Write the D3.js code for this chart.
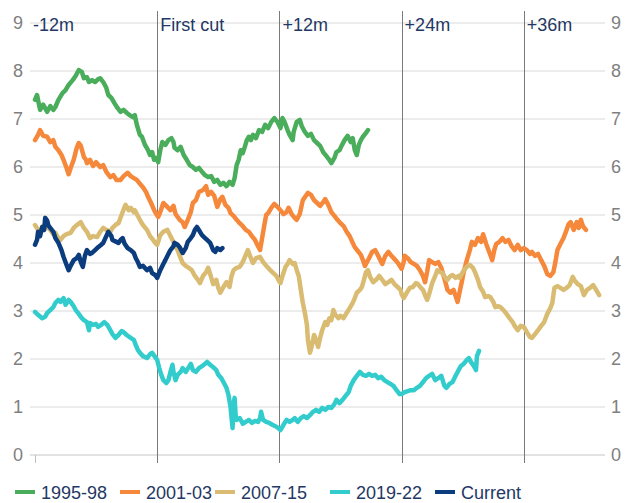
<!DOCTYPE html>
<html><head><meta charset="utf-8">
<script src="https://cdn.jsdelivr.net/npm/d3@7"></script>
<style>body{margin:0;background:#fff;}svg{display:block;font-family:"Liberation Sans",Arial,sans-serif;}</style>
</head><body><svg id="c" width="641" height="503"></svg>
<script>
// months relative to first cut, rate (%)
const s199598 = [[-12.0,7.4],[-11.8,7.5],[-11.5,7.19],[-11.2,7.3],[-10.8,7.15],[-10.5,7.27],[-10.2,7.19],[-10.0,7.25],[-9.7,7.4],[-9.3,7.54],[-9.0,7.6],[-8.7,7.71],[-8.3,7.81],[-8.0,7.9],[-7.7,8.02],[-7.4,7.98],[-7.2,7.85],[-6.9,7.87],[-6.7,7.77],[-6.4,7.81],[-6.1,7.77],[-5.8,7.83],[-5.6,7.85],[-5.3,7.77],[-5.0,7.65],[-4.8,7.5],[-4.5,7.44],[-4.2,7.33],[-3.9,7.23],[-3.6,7.15],[-3.3,7.19],[-3.0,7.13],[-2.7,7.08],[-2.4,7.04],[-2.2,7.08],[-2.0,6.88],[-1.7,6.67],[-1.5,6.63],[-1.2,6.46],[-0.9,6.35],[-0.7,6.25],[-0.5,6.31],[-0.3,6.15],[-0.1,6.19],[0.1,6.1],[0.3,6.35],[0.5,6.52],[0.8,6.46],[1.1,6.56],[1.4,6.6],[1.6,6.52],[1.7,6.4],[2.0,6.35],[2.3,6.42],[2.6,6.25],[2.9,6.15],[3.2,6.04],[3.5,6.0],[3.8,5.94],[4.1,5.98],[4.4,5.9],[4.7,5.83],[5.0,5.79],[5.3,5.81],[5.6,5.69],[5.9,5.73],[6.2,5.63],[6.5,5.67],[6.8,5.6],[7.1,5.69],[7.4,5.63],[7.6,5.77],[7.8,6.04],[8.0,6.15],[8.2,6.35],[8.4,6.29],[8.6,6.42],[8.8,6.56],[9.0,6.63],[9.2,6.56],[9.4,6.67],[9.7,6.6],[10.0,6.77],[10.3,6.73],[10.6,6.88],[10.9,6.81],[11.2,6.94],[11.5,7.02],[11.8,6.94],[12.1,6.81],[12.3,7.02],[12.5,6.94],[12.8,6.77],[13.0,6.67],[13.3,6.56],[13.4,6.73],[13.7,6.94],[14.0,6.98],[14.2,6.85],[14.5,6.73],[14.8,6.65],[15.1,6.69],[15.4,6.56],[15.7,6.5],[16.0,6.44],[16.3,6.31],[16.6,6.23],[16.9,6.15],[17.1,6.08],[17.4,6.19],[17.6,6.31],[17.9,6.35],[18.1,6.44],[18.4,6.56],[18.7,6.65],[19.0,6.52],[19.2,6.6],[19.4,6.35],[19.6,6.25],[19.8,6.46],[20.0,6.56],[20.2,6.63],[20.5,6.71],[20.7,6.77]];
const s200103 = [[-12.0,6.56],[-11.7,6.67],[-11.5,6.77],[-11.2,6.65],[-10.8,6.63],[-10.5,6.52],[-10.2,6.56],[-10.0,6.42],[-9.7,6.35],[-9.4,6.25],[-9.2,6.15],[-8.9,5.98],[-8.7,5.85],[-8.5,5.98],[-8.2,6.15],[-7.9,6.4],[-7.7,6.5],[-7.5,6.44],[-7.2,6.21],[-7.0,6.15],[-6.9,6.08],[-6.6,6.15],[-6.3,6.02],[-6.0,6.1],[-5.6,6.0],[-5.3,6.04],[-5.0,5.9],[-4.6,5.79],[-4.3,5.83],[-4.0,5.73],[-3.6,5.73],[-3.3,5.81],[-2.9,5.88],[-2.6,5.81],[-2.3,5.77],[-2.0,5.73],[-1.7,5.65],[-1.4,5.58],[-1.1,5.48],[-0.9,5.38],[-0.6,5.25],[-0.3,5.1],[-0.1,5.02],[0.1,4.96],[0.3,5.06],[0.6,5.25],[0.9,5.19],[1.3,5.1],[1.6,5.19],[1.8,5.02],[2.2,4.9],[2.5,4.85],[2.7,4.75],[3.0,4.9],[3.3,5.06],[3.5,5.25],[3.8,5.31],[4.1,5.48],[4.5,5.52],[4.8,5.6],[5.0,5.42],[5.3,5.48],[5.6,5.4],[5.9,5.17],[6.2,5.33],[6.4,5.38],[6.7,5.21],[7.0,5.15],[7.2,5.04],[7.5,4.98],[7.8,4.9],[8.1,4.83],[8.4,4.77],[8.7,4.69],[9.0,4.65],[9.3,4.56],[9.6,4.48],[9.9,4.35],[10.1,4.27],[10.3,4.52],[10.5,4.77],[10.7,5.0],[10.9,5.04],[11.2,5.15],[11.5,5.23],[11.8,5.17],[12.1,5.1],[12.4,5.02],[12.7,5.06],[12.9,5.15],[13.2,5.02],[13.5,4.94],[13.7,4.9],[14.0,5.02],[14.3,5.31],[14.6,5.4],[14.8,5.46],[15.1,5.42],[15.4,5.31],[15.7,5.25],[16.0,5.19],[16.3,5.27],[16.5,5.33],[16.8,5.21],[17.1,5.06],[17.4,4.98],[17.7,4.9],[18.0,4.83],[18.3,4.77],[18.6,4.65],[18.9,4.56],[19.2,4.42],[19.4,4.33],[19.7,4.25],[20.0,4.17],[20.2,4.06],[20.4,3.94],[20.6,4.02],[20.8,4.1],[21.1,4.23],[21.4,4.27],[21.7,4.15],[21.9,4.06],[22.1,3.98],[22.4,4.15],[22.7,4.23],[23.0,4.15],[23.4,4.06],[23.7,3.98],[24.0,3.88],[24.2,4.02],[24.3,4.15],[24.6,4.1],[24.9,4.02],[25.2,3.98],[25.5,3.94],[25.8,3.85],[26.1,3.73],[26.3,3.6],[26.5,3.81],[26.7,4.06],[27.0,4.02],[27.3,3.98],[27.6,4.02],[27.9,3.9],[28.1,3.75],[28.3,3.6],[28.5,3.44],[28.8,3.38],[29.1,3.44],[29.3,3.31],[29.5,3.19],[29.7,3.4],[29.9,3.6],[30.1,3.81],[30.4,4.06],[30.7,4.27],[30.9,4.44],[31.2,4.38],[31.5,4.52],[31.8,4.44],[32.0,4.6],[32.3,4.4],[32.6,4.23],[32.9,4.06],[33.1,4.27],[33.3,4.4],[33.6,4.44],[33.9,4.52],[34.2,4.44],[34.5,4.48],[34.8,4.35],[35.1,4.27],[35.4,4.38],[35.7,4.27],[36.0,4.31],[36.3,4.27],[36.6,4.19],[36.8,4.23],[37.1,4.15],[37.4,4.19],[37.7,4.06],[38.0,3.94],[38.3,3.77],[38.6,3.73],[38.9,3.81],[39.1,4.02],[39.3,4.27],[39.6,4.4],[39.9,4.52],[40.2,4.69],[40.4,4.81],[40.6,4.85],[40.9,4.69],[41.2,4.85],[41.4,4.73],[41.6,4.9],[41.8,4.77],[42.1,4.69]];
const s200715 = [[-12.0,4.79],[-11.7,4.69],[-11.5,4.65],[-11.2,4.77],[-10.8,4.75],[-10.5,4.69],[-10.2,4.6],[-10.0,4.63],[-9.7,4.52],[-9.5,4.48],[-9.2,4.56],[-8.9,4.6],[-8.5,4.63],[-8.2,4.73],[-7.9,4.79],[-7.5,4.85],[-7.2,4.73],[-6.9,4.65],[-6.6,4.52],[-6.3,4.56],[-5.9,4.54],[-5.6,4.65],[-5.3,4.73],[-5.0,4.69],[-4.6,4.65],[-4.4,4.73],[-4.0,4.81],[-3.8,4.83],[-3.5,5.0],[-3.2,5.17],[-3.1,5.21],[-2.8,5.1],[-2.6,5.15],[-2.3,5.06],[-2.2,5.1],[-1.9,4.98],[-1.7,4.9],[-1.4,4.79],[-1.0,4.69],[-0.7,4.56],[-0.4,4.48],[-0.2,4.42],[0.0,4.38],[0.3,4.58],[0.6,4.65],[1.0,4.69],[1.3,4.56],[1.5,4.48],[1.7,4.38],[2.0,4.27],[2.3,4.1],[2.5,4.0],[2.8,3.94],[3.1,3.9],[3.4,3.85],[3.7,3.73],[4.0,3.65],[4.2,3.58],[4.5,3.73],[4.8,3.81],[5.0,3.9],[5.2,3.77],[5.5,3.56],[5.8,3.65],[6.0,3.48],[6.2,3.38],[6.5,3.5],[6.8,3.6],[7.1,3.5],[7.3,3.73],[7.5,3.85],[7.8,3.9],[8.1,3.92],[8.4,4.02],[8.7,4.17],[8.9,4.27],[9.2,4.1],[9.4,4.0],[9.7,4.1],[10.1,4.13],[10.4,4.02],[10.8,3.92],[11.1,3.85],[11.4,3.79],[11.7,3.73],[11.9,3.65],[12.1,3.58],[12.3,3.73],[12.6,3.92],[12.8,3.98],[13.0,4.06],[13.3,3.98],[13.5,4.0],[13.7,3.85],[13.9,3.73],[14.1,3.44],[14.3,3.17],[14.5,2.96],[14.7,2.71],[14.8,2.4],[15.0,2.13],[15.2,2.29],[15.4,2.5],[15.6,2.4],[15.8,2.25],[16.0,2.44],[16.2,2.6],[16.5,2.77],[16.7,2.71],[16.9,2.85],[17.1,2.81],[17.3,3.02],[17.5,2.92],[17.8,2.85],[18.0,2.9],[18.3,2.85],[18.6,2.96],[18.9,3.06],[19.2,3.17],[19.4,3.27],[19.6,3.38],[19.9,3.44],[20.1,3.5],[20.3,3.65],[20.5,3.81],[20.7,3.85],[20.9,3.71],[21.2,3.6],[21.5,3.65],[21.8,3.73],[22.1,3.65],[22.4,3.56],[22.7,3.6],[23.0,3.65],[23.3,3.56],[23.6,3.5],[23.9,3.44],[24.0,3.35],[24.2,3.27],[24.5,3.38],[24.8,3.48],[25.1,3.5],[25.4,3.58],[25.6,3.56],[25.9,3.48],[26.1,3.44],[26.3,3.33],[26.5,3.23],[26.7,3.35],[27.0,3.58],[27.3,3.73],[27.5,3.85],[27.8,3.81],[28.0,3.79],[28.3,3.69],[28.5,3.65],[28.8,3.73],[29.0,3.75],[29.3,3.69],[29.6,3.73],[29.7,3.69],[30.0,3.81],[30.3,3.9],[30.5,3.94],[30.7,3.96],[31.0,3.9],[31.2,3.81],[31.5,3.65],[31.7,3.5],[32.0,3.4],[32.2,3.29],[32.5,3.31],[32.7,3.29],[33.0,3.19],[33.2,3.08],[33.5,3.1],[33.7,3.08],[34.0,3.02],[34.3,2.94],[34.6,2.85],[34.9,2.77],[35.1,2.69],[35.4,2.6],[35.7,2.69],[36.0,2.67],[36.3,2.56],[36.6,2.46],[36.8,2.44],[37.1,2.52],[37.4,2.6],[37.7,2.69],[38.0,2.77],[38.3,2.94],[38.6,3.06],[38.8,3.17],[39.0,3.48],[39.3,3.52],[39.6,3.48],[39.9,3.44],[40.2,3.48],[40.5,3.54],[40.8,3.71],[41.0,3.63],[41.3,3.56],[41.6,3.52],[41.9,3.33],[42.2,3.44],[42.5,3.48],[42.8,3.54],[43.1,3.44],[43.4,3.33]];
const s201922 = [[-12.0,2.98],[-11.7,2.92],[-11.3,2.85],[-11.0,2.88],[-10.8,2.96],[-10.5,3.02],[-10.2,3.08],[-10.0,3.17],[-9.7,3.23],[-9.5,3.19],[-9.2,3.27],[-9.0,3.13],[-8.7,3.23],[-8.5,3.19],[-8.2,3.1],[-8.0,3.02],[-7.7,2.94],[-7.4,2.85],[-7.2,2.81],[-6.9,2.77],[-6.7,2.6],[-6.6,2.75],[-6.3,2.71],[-6.0,2.73],[-5.8,2.67],[-5.5,2.71],[-5.2,2.77],[-4.9,2.71],[-4.6,2.6],[-4.4,2.52],[-4.1,2.44],[-3.8,2.5],[-3.5,2.58],[-3.3,2.56],[-3.0,2.5],[-2.6,2.44],[-2.3,2.4],[-2.1,2.29],[-1.9,2.19],[-1.7,2.13],[-1.4,2.06],[-1.0,2.02],[-0.7,2.1],[-0.5,2.13],[-0.2,2.04],[0.0,1.98],[0.2,1.81],[0.4,1.67],[0.6,1.56],[0.9,1.5],[1.1,1.56],[1.3,1.73],[1.5,1.88],[1.6,1.73],[1.8,1.56],[2.0,1.67],[2.3,1.73],[2.5,1.81],[2.8,1.73],[3.1,1.83],[3.3,1.9],[3.5,1.77],[3.8,1.73],[4.1,1.81],[4.4,1.85],[4.7,1.9],[4.9,1.94],[5.2,1.88],[5.5,1.83],[5.8,1.77],[6.0,1.67],[6.3,1.6],[6.5,1.52],[6.8,1.4],[7.0,1.25],[7.2,1.0],[7.3,0.77],[7.4,0.56],[7.5,1.04],[7.6,1.19],[7.7,0.83],[7.8,0.73],[8.1,0.77],[8.4,0.65],[8.7,0.69],[9.0,0.73],[9.3,0.67],[9.6,0.71],[9.9,0.69],[10.1,0.77],[10.2,0.9],[10.4,0.73],[10.7,0.69],[11.0,0.67],[11.3,0.63],[11.6,0.6],[11.9,0.56],[12.1,0.52],[12.4,0.63],[12.7,0.73],[13.0,0.69],[13.3,0.73],[13.5,0.77],[13.8,0.69],[14.1,0.77],[14.4,0.81],[14.7,0.77],[15.0,0.83],[15.3,0.9],[15.6,0.94],[15.9,0.9],[16.2,0.98],[16.5,0.94],[16.8,1.0],[17.1,0.98],[17.4,1.06],[17.6,1.15],[17.9,1.08],[18.2,1.15],[18.5,1.23],[18.8,1.31],[19.0,1.44],[19.3,1.56],[19.6,1.65],[19.9,1.73],[20.2,1.67],[20.5,1.65],[20.8,1.69],[21.1,1.65],[21.4,1.67],[21.7,1.6],[22.0,1.63],[22.3,1.56],[22.6,1.52],[22.9,1.48],[23.2,1.44],[23.5,1.35],[23.8,1.27],[24.0,1.27],[24.3,1.31],[24.6,1.33],[24.9,1.35],[25.2,1.35],[25.5,1.4],[25.8,1.44],[26.1,1.52],[26.4,1.6],[26.7,1.65],[27.0,1.69],[27.3,1.56],[27.6,1.6],[27.9,1.65],[28.2,1.44],[28.4,1.4],[28.7,1.48],[29.0,1.52],[29.3,1.65],[29.6,1.77],[29.8,1.85],[30.1,1.9],[30.4,1.98],[30.6,2.02],[30.8,1.94],[31.1,1.85],[31.3,1.77],[31.4,2.06],[31.6,2.17]];
const sCurrent = [[-12.0,4.38],[-11.8,4.48],[-11.7,4.65],[-11.5,4.56],[-11.3,4.75],[-11.1,4.69],[-11.0,4.94],[-10.8,4.88],[-10.7,4.79],[-10.5,4.73],[-10.2,4.65],[-10.0,4.52],[-9.7,4.42],[-9.4,4.27],[-9.2,4.13],[-8.9,3.96],[-8.7,3.85],[-8.5,3.94],[-8.2,4.06],[-7.9,4.1],[-7.7,4.17],[-7.5,4.02],[-7.3,3.92],[-7.1,4.15],[-6.9,4.27],[-6.6,4.19],[-6.4,4.21],[-6.1,4.27],[-5.8,4.33],[-5.5,4.38],[-5.3,4.42],[-5.0,4.56],[-4.8,4.65],[-4.5,4.56],[-4.4,4.48],[-4.0,4.44],[-3.8,4.42],[-3.6,4.48],[-3.4,4.52],[-3.2,4.4],[-2.9,4.31],[-2.6,4.27],[-2.3,4.21],[-2.1,4.1],[-1.9,4.02],[-1.7,3.92],[-1.4,3.94],[-1.0,3.85],[-0.7,3.9],[-0.5,3.79],[-0.2,3.75],[0.0,3.69],[0.3,3.85],[0.6,3.98],[0.8,4.06],[1.1,4.19],[1.3,4.27],[1.6,4.35],[1.7,4.42],[2.0,4.38],[2.2,4.33],[2.5,4.21],[2.8,4.31],[3.0,4.44],[3.3,4.52],[3.5,4.58],[3.7,4.69],[3.9,4.75],[4.2,4.65],[4.4,4.58],[4.7,4.52],[4.9,4.48],[5.2,4.42],[5.5,4.27],[5.7,4.23],[5.9,4.31],[6.2,4.27],[6.4,4.31]];

const seriesNames = ["1995-98","2001-03","2007-15","2019-22","Current"];
const seriesData = [s199598, s200103, s200715, s201922, sCurrent];
const seriesColors = ["#4aad5b","#f5883a","#d9bc72","#33cccc","#0b3c7d"];
const yTicks = [0,1,2,3,4,5,6,7,8,9];
const markerMonths = [-12, 0, 12, 24, 36];
const markerLabels = ["-12m","First cut","+12m","+24m","+36m"];

const svg = d3.select("#c");
const x = d3.scaleLinear().domain([-12, 44]).range([35, 605.3]);
const y = d3.scaleLinear().domain([0, 9]).range([455, 23]);

// gridlines
svg.append("g").selectAll("line").data(yTicks).join("line")
  .attr("x1", 30).attr("x2", 605)
  .attr("y1", d => y(d)).attr("y2", d => y(d))
  .attr("stroke", d => d === 0 ? "#d9d9d9" : "#e6e6e6").attr("stroke-width", 1.3);

// left and right tick labels
const yl = svg.append("g").attr("transform","translate(23,0)")
  .call(d3.axisLeft(y).tickValues(yTicks).tickSize(0).tickPadding(0));
yl.select(".domain").remove();
yl.selectAll("text").attr("font-size", 18).attr("fill", "#7f7f7f").attr("font-family","Liberation Sans, Arial, sans-serif");
const yr = svg.append("g").attr("transform","translate(611,0)")
  .call(d3.axisRight(y).tickValues(yTicks).tickSize(0).tickPadding(0));
yr.select(".domain").remove();
yr.selectAll("text").attr("font-size", 18).attr("fill", "#7f7f7f").attr("font-family","Liberation Sans, Arial, sans-serif");

// vertical marker lines
svg.append("g").selectAll("line").data(markerMonths).join("line")
  .attr("x1", d => Math.round(x(d)) + 0.5).attr("x2", d => Math.round(x(d)) + 0.5)
  .attr("y1", d => d === -12 ? 455 : 11).attr("y2", 463)
  .attr("stroke", d => d === -12 ? "#bfbfbf" : "#7a7a7a").attr("stroke-width", 1);

svg.append("g").selectAll("text").data(markerMonths).join("text")
  .attr("x", d => x(d) + (d === -12 ? -2 : 3)).attr("y", 31)
  .attr("font-size", 18).attr("fill", "#1f3864")
  .text((d, i) => markerLabels[i]);

// lines
const line = d3.line().x(d => x(d[0])).y(d => y(d[1])).curve(d3.curveLinear);
svg.append("g").selectAll("path").data(seriesData).join("path")
  .attr("d", line).attr("fill", "none")
  .attr("stroke", (d, i) => seriesColors[i]).attr("stroke-width", 4.5)
  .attr("stroke-linejoin", "round").attr("stroke-linecap", "round");

// legend
const legX = [15, 120, 215, 330, 435];
const leg = svg.append("g").selectAll("g").data(seriesNames).join("g")
  .attr("transform", (d, i) => `translate(${legX[i]},492)`);
leg.append("line").attr("x1", 0).attr("x2", 20).attr("y1", 0).attr("y2", 0)
  .attr("stroke", (d, i) => seriesColors[i]).attr("stroke-width", 4);
leg.append("text").attr("x", 26).attr("y", 6.5).attr("font-size", 18).attr("fill", "#1f3864").text(d => d);
</script></body></html>
